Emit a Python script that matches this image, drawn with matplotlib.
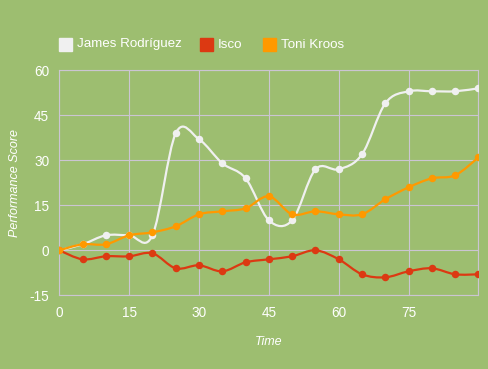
import matplotlib
matplotlib.use("Agg")
import matplotlib.pyplot as plt
from matplotlib.path import Path
from matplotlib.patches import PathPatch, Rectangle

plt.rcParams['font.family'] = ['Liberation Sans', 'DejaVu Sans']
plt.rcParams['axes.unicode_minus'] = False

# Data
time = [0, 5, 10, 15, 20, 25, 30, 35, 40, 45, 50, 55, 60, 65, 70, 75, 80, 85, 90]
james = [0, 2, 5, 5, 5, 39, 37, 29, 24, 10, 10, 27, 27, 32, 49, 53, 53, 53, 54]
isco = [0, -3, -2, -2, -1, -6, -5, -7, -4, -3, -2, 0, -3, -8, -9, -7, -6, -8, -8]
kroos = [0, 2, 2, 5, 6, 8, 12, 13, 14, 18, 12, 13, 12, 12, 17, 21, 24, 25, 31]

names = ["James Rodríguez", "Isco", "Toni Kroos"]
colors = {"James Rodríguez": "#f0f0f0", "Isco": "#dc3912", "Toni Kroos": "#ff9900"}
x_ticks = [0, 15, 30, 45, 60, 75]
y_ticks = [-15, 0, 15, 30, 45, 60]

bg = "#9dbe70"
grid_col = "#cbc5d2"


def smooth_path(xs, ys, t=1/6):
    # Catmull-Rom style cubic bezier through every point
    pts = list(zip(xs, ys))
    verts = [pts[0]]
    codes = [Path.MOVETO]
    n = len(pts)
    for i in range(n - 1):
        p0 = pts[i - 1] if i > 0 else pts[i]
        p1 = pts[i]
        p2 = pts[i + 1]
        p3 = pts[i + 2] if i + 2 < n else pts[i + 1]
        c1 = (p1[0] + (p2[0] - p0[0]) * t, p1[1] + (p2[1] - p0[1]) * t)
        c2 = (p2[0] - (p3[0] - p1[0]) * t, p2[1] - (p3[1] - p1[1]) * t)
        verts += [c1, c2, p2]
        codes += [Path.CURVE4] * 3
    return Path(verts, codes)


fig = plt.figure(figsize=(4.88, 3.69), dpi=100, facecolor=bg)
ax = fig.add_axes([0.1215, 0.1997, 0.859, 0.6098])
ax.set_facecolor(bg)

series = {"James Rodríguez": james, "Isco": isco, "Toni Kroos": kroos}
for z, name in enumerate(names):
    vals = series[name]
    ax.add_patch(PathPatch(smooth_path(time, vals), facecolor="none",
                           edgecolor=colors[name], lw=1.6, zorder=3 + z))
    ax.plot(time, vals, "o", color=colors[name], markersize=5.4,
            markeredgewidth=0, zorder=3 + z)

ax.set_xlim(0, 90)
ax.set_ylim(-15, 60)
ax.set_xticks(x_ticks + [90])
ax.set_xticklabels([str(v) for v in x_ticks] + [""])
ax.set_yticks(y_ticks)
ax.grid(True, color=grid_col, lw=0.8, zorder=1)
ax.set_axisbelow(True)
for s in ax.spines.values():
    s.set_color(grid_col)
    s.set_linewidth(0.8)
ax.tick_params(length=0, colors="white", labelsize=9.8)
ax.tick_params(axis="y", pad=7.2)
ax.tick_params(axis="x", pad=7.5)

ax.set_xlabel("Time", color="white", style="italic", fontsize=9, va="center")
ax.set_ylabel("Performance Score", color="white", style="italic", fontsize=9, va="center")
ax.xaxis.set_label_coords(0.5, -0.206)
ax.yaxis.set_label_coords(-0.1064, 0.5)

# Legend along the top
leg_x = [59, 200, 263]
for x0, name in zip(leg_x, names):
    fig.patches.append(Rectangle((x0 / 488, 1 - 50.5 / 369), 12.5 / 488, 12.5 / 369,
                                 transform=fig.transFigure, color=colors[name]))
    fig.text((x0 + 18) / 488, 1 - 44.5 / 369, name, color="white", fontsize=9.6,
             va="center", ha="left")

plt.savefig("out.png", dpi=100, facecolor=bg)
